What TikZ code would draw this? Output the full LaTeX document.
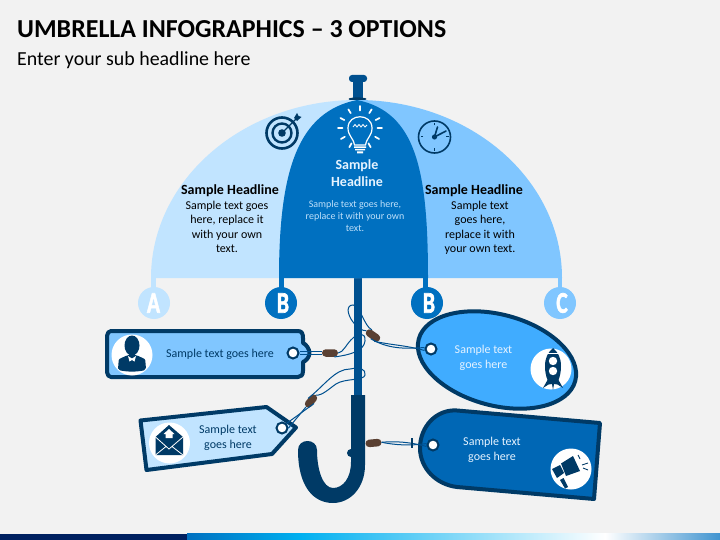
\documentclass[tikz,border=0pt]{standalone}
\usepackage{fontspec}
\setmainfont{Carlito}
\newfontfamily\heavyf[FakeBold=2.2]{Carlito Bold}
\usetikzlibrary{shapes.geometric,shapes.misc}
\definecolor{bgc}{HTML}{F2F2F2}
\definecolor{lightb}{HTML}{C1E4FF}
\definecolor{midb}{HTML}{80C6FF}
\definecolor{mainb}{HTML}{0070C0}
\definecolor{darkb}{HTML}{003A66}
\definecolor{shaftb}{HTML}{00508F}
\definecolor{skyb}{HTML}{40ACFF}
\definecolor{tagb}{HTML}{0067B5}
\definecolor{knotc}{HTML}{5A4032}
\definecolor{navyb}{HTML}{002060}
\definecolor{paleb}{HTML}{BFE0FA}
\definecolor{whiteb}{HTML}{E6F3FF}
\definecolor{cyanb}{HTML}{00B0F0}
\tikzset{
 badge/.style={circle,minimum size=32pt,inner sep=0pt,text=white},
 letter/.style={text=white,inner sep=0pt,font=\fontsize{30}{30}\selectfont\heavyf,xscale=.72},
 holeb/.style={circle,draw=darkb,fill=white,line width=2pt,minimum size=11pt,inner sep=0pt},
 knotb/.style={rounded rectangle,fill=knotc,draw=none,minimum width=16pt,minimum height=7.5pt,inner sep=0pt},
 cord/.style={draw=shaftb,line width=1pt},
 wcirc/.style={circle,fill=white,minimum size=41pt,inner sep=0pt},
 tagedge/.style={draw=darkb,line width=4pt,line join=round},
 body/.style={align=center,inner sep=0pt,font=\fontsize{12}{14.4}\selectfont},
 tagtext/.style={align=center,inner sep=0pt,font=\fontsize{12}{14.4}\selectfont},
 headb/.style={inner sep=0pt,font=\fontsize{14}{15}\selectfont\bfseries},
 iconw/.style={draw=white,line width=1.7pt,line cap=round}
}
\begin{document}
\begin{tikzpicture}[x=1pt,y=-1pt]
\useasboundingbox (0,0) rectangle (720,540);
\fill[bgc] (0,0) rectangle (720,540);
% bottom bar
\fill[navyb] (0,533.5) rectangle (187,540);
\fill[left color=mainb,right color=cyanb] (187,533.5) rectangle (300,540);
\fill[left color=cyanb,right color=white] (300,533.5) rectangle (605,540);
\fill[left color=white,right color=mainb!75!white] (605,533.5) rectangle (720,540);
% titles
\node[anchor=west,inner sep=0pt,font=\fontsize{25.9}{28}\selectfont\bfseries] (title) at (17,29) {UMBRELLA INFOGRAPHICS – 3 OPTIONS};
\node[anchor=west,inner sep=0pt,font=\fontsize{19.9}{22}\selectfont] (sub) at (17,60) {Enter your sub headline here};
% top handle
\fill[shaftb] (352.5,80) rectangle (362.5,100);
\fill[shaftb,rounded corners=3pt] (349,75) rectangle (367,82);
\fill[darkb] (357.5,99) ellipse (9 and 1.6);
% shaft
\fill[shaftb] (354,270) rectangle (362,400);
% canopy
\fill[lightb] (151,278) .. controls (151,180) and (243,100) .. (357,100) -- (357,278) -- cycle;
\fill[midb] (562,278) .. controls (562,180) and (471,100) .. (357,100) -- (357,278) -- cycle;
\fill[mainb] (279,278) .. controls (279,170) and (298,112) .. (357,100) .. controls (416,112) and (428,170) .. (428,278) -- cycle;
% badges
\fill[lightb] (151,276) rectangle (156,292);
\fill[mainb] (279,276) rectangle (284,292);
\fill[mainb] (423,276) rectangle (428,292);
\fill[midb] (557.5,276) rectangle (562,292);
\node[badge,fill=lightb] (ca) at (154,303) {};
\node[badge,fill=mainb] (cb) at (281,303) {};
\node[badge,fill=mainb] (cb2) at (427,303) {};
\node[badge,fill=midb] (cc) at (560,303) {};
\node[letter] (la) at (153.5,303) {A};
\node[letter] (lb) at (283,303) {B};
\node[letter] (lb2) at (429,303) {B};
\node[letter] (lc) at (562,303) {C};
% canopy texts
\node[headb] (h1) at (230,190.5) {Sample Headline};
\node[body,anchor=north] (t1) at (227,201) {Sample text goes\\here, replace it\\with your own\\text.};
\node[headb] (h3) at (474,190.5) {Sample Headline};
\node[body,anchor=north] (t3) at (480,201) {Sample text\\goes here,\\replace it with\\your own text.};
\node[inner sep=0pt,align=center,text=whiteb,font=\fontsize{14}{17}\selectfont\bfseries] (h2) at (357,173.5) {Sample\\Headline};
\node[inner sep=0pt,align=center,text=paleb,font=\fontsize{10}{12}\selectfont] (t2) at (355,216) {Sample text goes here,\\replace it with your own\\text.};
% target icon
\draw[darkb,line width=2.6pt] (282,133) circle (15.5);
\draw[darkb,line width=2.4pt] (282,133) circle (9.5);
\fill[darkb] (282,133) circle (3.8);
\draw[darkb,line width=1.4pt] (282,133) -- (297,118);
\fill[darkb] (294,118) -- (297,113) -- (298.5,116) -- (301.5,117) -- (297,121) -- cycle;
% clock icon
\draw[darkb,line width=1.6pt] (434.5,137) circle (16);
\fill[darkb] (434.5,137) circle (2.6);
\draw[darkb,line width=1.6pt,line cap=round] (434.5,137) -- (437.5,127) (434.5,137) -- (446,131);
\foreach \a in {0,90,180,270}{\draw[darkb,line width=1pt] (434.5,137)+(\a:11.5) -- +(\a:14);}
% bulb icon
\foreach \a in {-90,-58,-27,0,30,61,-122,-153,180,150,119}{\draw[iconw] (360,128)+(\a:17.5) -- +(\a:22);}
\draw[white,line width=1.2pt] (354.5,145) .. controls (353,137) and (348,136) .. (348,128) .. controls (348,113) and (372,113) .. (372,128) .. controls (372,136) and (367,137) .. (365.5,145) -- cycle;
\draw[white,line width=.8pt] (353,127) -- (355,124.5) -- (357,127) -- (359,124.5) -- (361,127) -- (363,124.5) -- (365,127) -- (367,125);
\fill[white] (354,146.5) rectangle (366,148) (355,149) rectangle (365,150.5) (357,151.5) rectangle (363,153.5);
% handle hook
\fill[darkb] (365,395) -- (365,465) .. controls (365,488) and (350,503) .. (333,503) .. controls (313,503) and (298,486) .. (298,450) .. controls (298,438) and (317,438) .. (317,450) .. controls (317,470) and (323,488) .. (333,488) .. controls (343,488) and (351,478) .. (351,462) -- (351,395) -- cycle;
\fill[darkb] (351,453) circle (4);
% tag 1
\draw[tagedge,fill=midb] (111,331) -- (298,331) .. controls (302,331) and (303,334) .. (303,338) -- (303,343) .. controls (306,344) and (309.5,349) .. (309.5,353) .. controls (309.5,357) and (306,361) .. (303,362) -- (303,371) .. controls (303,375) and (301,377) .. (298,377) -- (111,377) .. controls (109,377) and (107,375) .. (107,372) -- (107,336) .. controls (107,333) and (109,331) .. (111,331) -- cycle;
% tag 2
\draw[tagedge,fill=lightb] (140.5,420.5) -- (266.5,407) -- (296,427.5) -- (272,454) -- (146.5,470) -- cycle;
% tag 3
\node[ellipse,tagedge,fill=skyb,rotate=-15,minimum width=162pt,minimum height=91pt,inner sep=0pt] (oval) at (497,360) {};
% tag 4
\draw[tagedge,fill=tagb] (457,410.5) -- (600,423) -- (594,499) -- (457,487) .. controls (436,484.5) and (420,468) .. (420,448) .. controls (420,427) and (436,409) .. (457,410.5) -- cycle;
% tag texts
\node[tagtext,text=darkb] (tt1) at (220,354) {Sample text goes here};
\node[tagtext,text=darkb] (tt2) at (228,438) {Sample text\\goes here};
\node[tagtext,text=whiteb] (tt3) at (483.5,358) {Sample text\\goes here};
\node[tagtext,text=whiteb] (tt4) at (492,450) {Sample text\\goes here};
% white icon discs
\node[wcirc] (d1) at (132,355) {};
\node[wcirc] (d2) at (169.5,443) {};
\node[wcirc] (d3) at (551,369) {};
\node[wcirc] (d4) at (571,469) {};
% person
\fill[darkb] (132,345.5) ellipse (7.5 and 10);
\fill[darkb,rounded corners=2pt] (118,370) -- (118.5,362) .. controls (119,358.5) and (124,357) .. (127,355) -- (137,355) .. controls (140,357) and (145,358.5) .. (145.5,362) -- (146,370) .. controls (136,372) and (128,372) .. (118,370) -- cycle;
\fill[white] (128,356) -- (132,358.5) -- (136,356) -- (134.5,361.5) -- (132,360) -- (129.5,361.5) -- cycle;
% envelope
\fill[darkb] (155.5,437) -- (169,425) -- (183,437) -- (183,455) -- (155.5,455) -- cycle;
\draw[white,line width=.8pt] (155.5,437) -- (169,449) -- (183,437) (155.5,455) -- (166,446.5) (183,455) -- (172,446.5);
\fill[white] (169,429) -- (174.5,434) -- (172.5,434) -- (172.5,438) -- (165.5,438) -- (165.5,434) -- (163.5,434) -- cycle;
% rocket
\fill[darkb] (553,348) .. controls (558,352) and (561,358) .. (561,366) .. controls (561,372) and (560,376) .. (558.5,380) -- (563,388) -- (557.5,384.5) -- (554,384) -- (553,390) -- (552,384) -- (548.5,384.5) -- (543,388) -- (547.5,380) .. controls (546,376) and (545,372) .. (545,366) .. controls (545,358) and (548,352) .. (553,348) -- cycle;
\fill[white] (553,361) circle (4.2) (553,371) circle (4.2);
\draw[white,line width=.7pt] (548,353.5) -- (558,353.5);
% megaphone
\fill[darkb] (552,469) -- (560,465) -- (564,473) -- (557,478) -- cycle;
\fill[darkb] (561,463.5) -- (573,456) -- (580,471) -- (566,476) -- cycle;
\fill[darkb] (560,480) -- (563.5,478) -- (568,487) -- (565,488.5) -- cycle;
\draw[darkb,line width=.9pt] (578,455) -- (580,459) (582,465) -- (588,463) (583,468) -- (588,470);
% holes and knots
\node[holeb] (hole1) at (293,353) {};
\node[holeb] (hole2) at (282,428) {};
\node[holeb] (hole3) at (431,349) {};
\node[holeb] (hole4) at (433,445) {};
\node[knotb] (knot1) at (330,353) {};
\node[knotb,rotate=-35] (knot3) at (373,335.5) {};
\node[knotb,rotate=50,minimum width=15pt] (knot2) at (311,401) {};
\node[knotb,rotate=5] (knot4) at (373.5,443) {};
% cords
\draw[cord] ([yshift=-1.6pt]hole1.east) -- ([yshift=-1.6pt]knot1.west);
\draw[cord] ([yshift=1.6pt]hole1.east) -- ([yshift=1.6pt]knot1.west);
\draw[cord] (knot1.east) .. controls (344,352) and (346,344) .. (353,338) .. controls (358,333) and (366,332) .. (365,341) .. controls (364,351) and (350,355) .. (knot1.south east);
\draw[cord] (knot3.south east) .. controls (390,345) and (405,345) .. ([yshift=-1.5pt]hole3.west);
\draw[cord] (knot3.south) .. controls (388,349) and (405,349) .. ([yshift=1.5pt]hole3.west);
\draw[cord] (knot3.north west) .. controls (364,326) and (360,305) .. (353,305) .. controls (346,305) and (347,314) .. (353,322) .. controls (357,327) and (362,331) .. (knot3.west);
\draw[cord] (knot2.north) .. controls (325,385) and (335,369) .. (350,369) .. controls (360,367) and (366,369) .. (365,375) .. controls (364,381) and (345,378) .. (336,384) .. controls (330,388) and (322,396) .. (knot2.east);
\draw[cord] (knot2.south) -- (hole2.north east);
\draw[cord] (knot2.west) -- (hole2.east);
\draw[cord] (knot4.east) .. controls (395,441) and (410,442) .. ([yshift=-1.5pt]hole4.west);
\draw[cord] (knot4.east) .. controls (395,445) and (410,446) .. ([yshift=1.5pt]hole4.west);
\draw[darkb,line width=2pt] (411.5,438) -- (411.5,448);
\end{tikzpicture}
\end{document}
